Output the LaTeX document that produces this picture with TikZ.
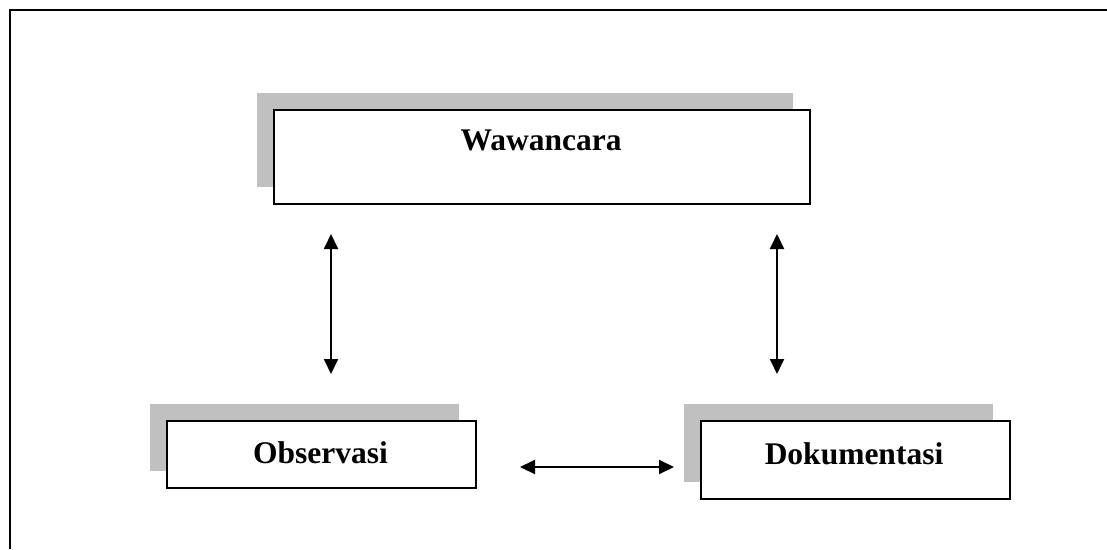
\documentclass[tikz,border=0pt]{standalone}
\usepackage{fontspec}
\setmainfont{Liberation Serif}
\usetikzlibrary{arrows.meta}
\definecolor{shadowgray}{HTML}{C0C0C0}
\tikzset{
  shadowbox/.style={fill=shadowgray, draw=none, inner sep=0pt, anchor=north west},
  mainbox/.style={fill=white, draw=black, line width=2pt, inner sep=0pt, anchor=north west},
  boxtext/.style={font=\bfseries\fontsize{31.5}{38}\selectfont, inner sep=0pt, anchor=base},
  biarrow/.style={line width=2pt, {Triangle[width=14pt,length=15pt]}-{Triangle[width=14pt,length=15pt]}}
}
\begin{document}
\begin{tikzpicture}[x=1pt,y=-1pt]
\useasboundingbox (0,0) rectangle (1107,549);
% outer frame
\draw[line width=2.2pt] (10,549) -- (10,10) -- (1107,10);
% Wawancara
\node[shadowbox, minimum width=536pt, minimum height=94pt] (ws) at (257,93) {};
\node[mainbox, minimum width=536pt, minimum height=94pt] (w) at (273,109) {};
\node[boxtext] (wt) at (541,150) {Wawancara};
% Observasi
\node[shadowbox, minimum width=309pt, minimum height=67pt] (os) at (150,404) {};
\node[mainbox, minimum width=309pt, minimum height=67pt] (o) at (166,420) {};
\node[boxtext] (ot) at (320.5,463) {Observasi};
% Dokumentasi
\node[shadowbox, minimum width=309pt, minimum height=78pt] (ds) at (684,404) {};
\node[mainbox, minimum width=309pt, minimum height=78pt] (d) at (700,420) {};
\node[boxtext] (dt) at (854,464) {Dokumentasi};
% arrow end points
\coordinate (a1t) at (331,234);
\coordinate (a1b) at (331,374);
\coordinate (a2t) at (777,234);
\coordinate (a2b) at (777,374);
\coordinate (a3l) at (520,467);
\coordinate (a3r) at (674,467);
\draw[biarrow] (a1t) -- (a1b);
\draw[biarrow] (a2t) -- (a2b);
\draw[biarrow] (a3l) -- (a3r);
\end{tikzpicture}
\end{document}
